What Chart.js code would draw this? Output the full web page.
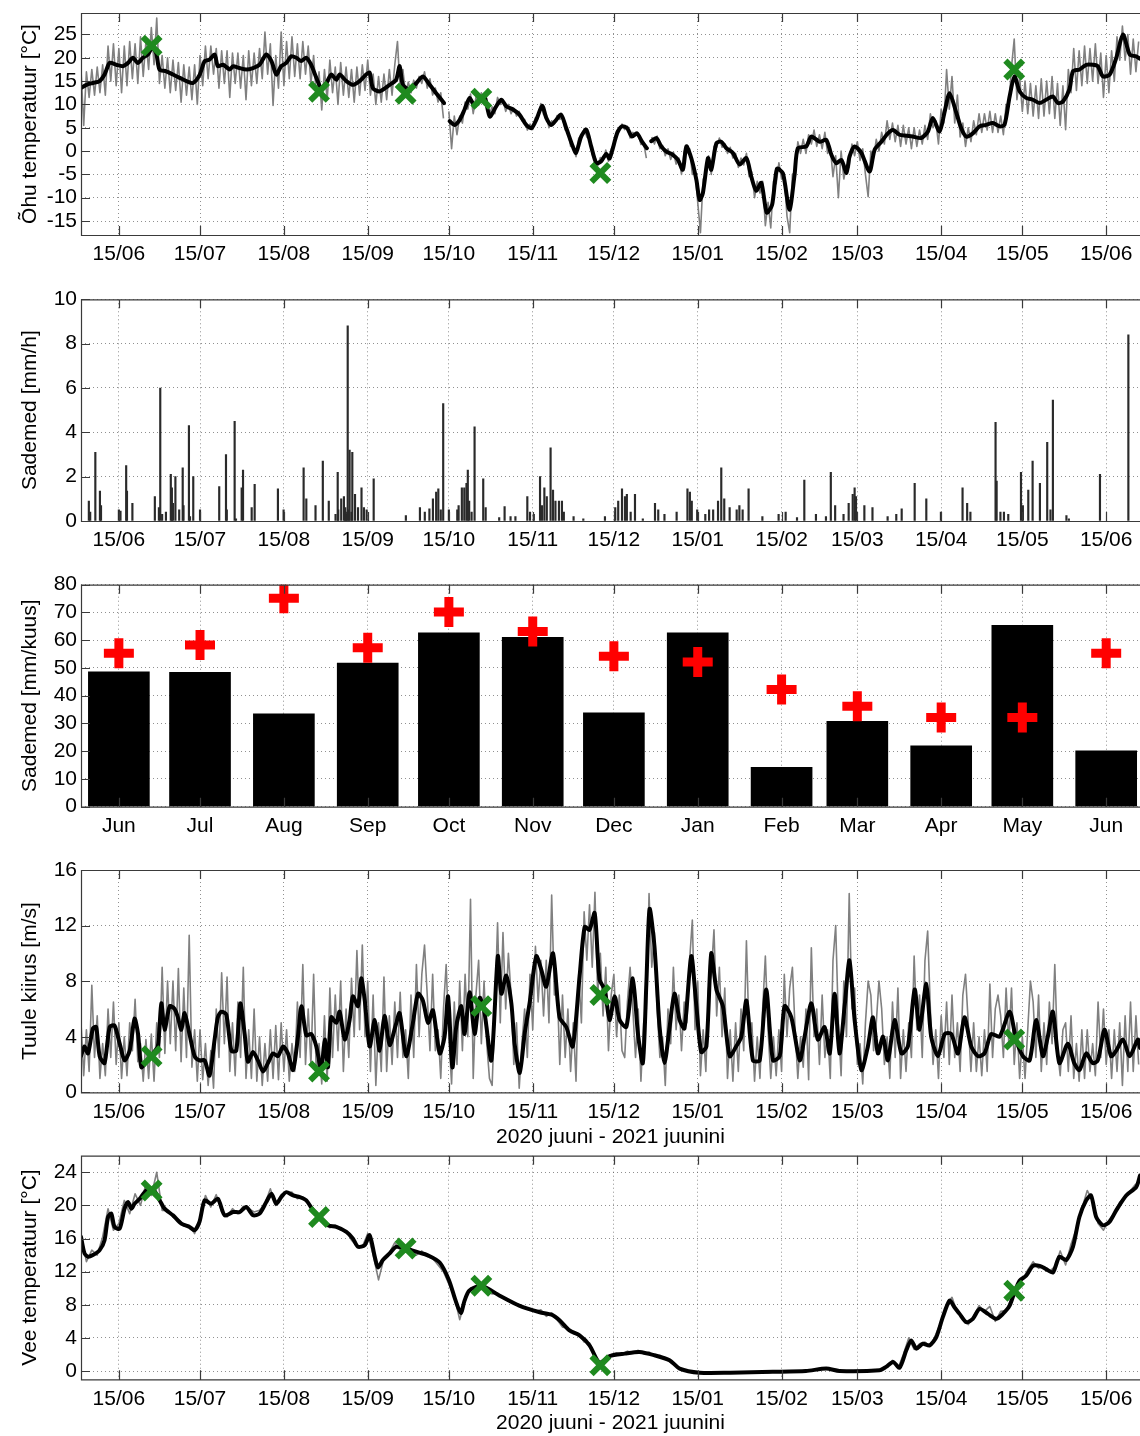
<!DOCTYPE html>
<html>
<head>
<meta charset="utf-8">
<script src="https://cdn.jsdelivr.net/npm/chart.js@4/dist/chart.umd.min.js"></script>
<style>
  html, body { margin: 0; padding: 0; background: #fff; }
  body { position: relative; width: 1140px; height: 1436px; overflow: hidden; }
  canvas { position: absolute; left: 0; }
</style>
</head>
<body>
<script>
// Time axis: days counted from 1 June 2020.
const X_MAX = 391.5;
const tickDays = [14, 44, 75, 106, 136, 167, 197, 228, 259, 287, 318, 348, 379];
const dateLabels = ['15/06','15/07','15/08','15/09','15/10','15/11','15/12','15/01','15/02','15/03','15/04','15/05','15/06'];
const monthLabels = ['Jun','Jul','Aug','Sep','Oct','Nov','Dec','Jan','Feb','Mar','Apr','May','Jun'];
const periodTitle = '2020 juuni - 2021 juunini';

// Sampling days (field visits), marked with green crosses
const sampleDays = [26.1, 88, 120, 148, 192, 345];
const windSampleDays = [26.1, 88, 148, 192, 345];

// ---- Air temperature [°C] ----
const airTicks = [-15, -10, -5, 0, 5, 10, 15, 20, 25];
// hourly extremes, one value per day (day index = array index)
const airRaw = [
17.5,5.5,17.0,11.5,17.5,12.0,18.0,12.5,18.5,12.0,
22.5,15.0,23.0,14.0,22.0,12.5,22.5,14.0,23.5,15.5,
23.0,14.5,24.5,16.0,23.5,17.5,26.5,18.5,28.5,14.5,
20.5,13.5,20.0,12.5,19.5,13.0,19.0,10.5,18.5,12.0,
18.0,11.0,18.5,10.0,20.5,14.0,22.5,15.5,22.5,16.5,
22.0,13.5,21.5,14.5,21.5,11.5,21.0,14.5,21.0,13.5,
20.5,11.0,21.5,14.0,21.0,14.5,22.0,15.5,25.5,16.5,
23.0,9.8,20.5,13.5,25.5,14.0,23.5,15.5,24.5,16.0,
23.0,15.5,23.5,16.5,22.5,14.5,20.5,11.5,17.0,8.8,
17.5,11.0,19.5,12.5,18.0,10.0,19.0,12.0,18.0,11.5,
17.5,10.5,18.0,12.0,18.5,13.0,19.5,12.0,16.5,10.0,
16.0,10.5,16.5,11.0,17.5,12.0,18.5,23.5,13.0,17.5,
12.0,14.8,12.5,15.2,13.5,16.0,14.5,17.0,13.5,15.5,
12.0,13.5,10.5,12.5,7.0,null,8.5,0.5,7.5,3.5,
7.5,6.0,10.5,9.0,12.2,8.0,11.5,9.8,12.5,10.0,
10.5,8.0,9.5,8.0,11.5,10.0,11.0,8.5,10.0,8.0,
9.2,7.5,8.5,6.5,6.8,4.5,5.8,4.6,7.2,7.0,
10.2,7.8,7.8,5.0,6.5,5.8,7.6,6.8,7.2,4.5,
4.2,1.0,1.2,-1.2,2.8,2.8,4.8,3.0,2.5,-0.8,
-1.2,-3.2,-1.4,-2.0,0.2,-2.2,0.4,1.5,4.3,4.2,
5.8,4.6,5.3,2.8,4.0,3.4,3.8,1.4,1.8,-1.5,
null,3.0,1.5,3.2,0.5,1.2,-1.0,0.5,-1.8,-0.2,
-2.8,-1.5,-5.0,0.0,-0.5,0.5,-5.0,-4.5,-11.0,-17.5,
-6.0,-5.0,-1.0,-5.0,1.0,0.8,2.8,0.8,1.6,-0.5,
0.8,-1.5,-0.5,-3.5,-1.5,-3.0,-0.5,-5.5,-4.5,-10.0,
-6.5,-9.0,-6.5,-16.0,-11.0,-16.5,-6.5,-7.0,-2.5,-6.0,
-5.5,-14.0,-17.5,-5.0,-4.5,2.0,-0.5,2.5,-0.5,3.5,
1.5,4.5,1.0,3.5,0.5,4.0,-0.5,1.0,-5.5,-1.0,
-10.0,0.0,-6.0,-3.0,-3.5,1.5,-1.0,2.0,-2.0,0.5,
-5.0,-9.8,0.0,-1.5,2.5,0.0,4.0,1.5,6.5,2.5,
6.0,2.0,5.5,1.0,5.5,1.5,5.0,0.5,5.0,1.0,
4.5,1.5,5.5,2.5,8.0,5.0,6.5,1.5,9.0,6.0,
17.5,9.0,16.0,6.0,12.0,3.0,6.0,1.0,5.0,2.0,
6.5,3.5,8.0,4.0,8.0,4.5,8.5,4.0,8.0,4.0,
7.5,3.5,10.0,9.5,18.0,24.0,11.0,16.0,8.5,15.0,
8.0,14.5,7.5,14.0,7.0,15.5,7.5,15.0,8.0,16.0,
7.0,14.5,5.5,14.0,4.6,17.5,12.5,22.0,13.0,21.5,
14.0,22.5,14.5,22.0,15.0,23.0,14.5,21.0,11.5,20.5,
12.5,21.5,15.0,24.5,19.5,26.8,19.5,25.0,16.5,24.0,
17.0,23.5
];
// daily running mean, [day, °C]
const airMean = [
[0,13.5],[2,14.2],[4.4,14.6],[6.9,15],[8.7,16.4],[10.6,18.9],[13,18.5],[15.5,18.2],[17.4,18.9],[19.2,20],
[21,18.9],[22.9,20],[24.7,20.7],[26.3,22.1],[27.8,21],[29,17.5],[31.5,17.1],[34,16.4],[36.5,15.7],[39,15],
[41.4,14.6],[43.9,16.4],[45.7,19.3],[47.5,19.6],[49.4,20.7],[50.6,18.2],[52.5,18.5],[55,17.5],[56.2,18.2],[58.6,17.8],
[61.1,17.5],[63.6,17.8],[66,18.5],[68.5,20.7],[70.4,19.3],[72.2,16.4],[74,18.2],[75.9,18.9],[77.7,20.3],[79.6,20],
[81.4,19.3],[83.3,20],[85.1,18.5],[87,15.7],[88.8,13.5],[90.7,14.6],[92.5,16.4],[94.4,15.3],[95.6,16.4],[98.1,15],
[100.5,14.2],[103,15],[105.4,16.4],[106.7,16.8],[107.9,13.5],[110.4,12.8],[114.1,14.2],[116.5,15.3],[117.8,18.2],[119,14.2],
[121.5,13.2],[124,14.6],[126.4,16],[128.9,14.2],[131.3,12.4],[134.2,10.3],[135.2,null],[136.3,6.4],[138.1,5.6],[140,6.7],
[141.8,8.9],[143.7,11.4],[145.5,9.6],[147.4,11],[149.2,11.7],[151.1,7.4],[153.5,9.6],[155.4,11],[157.2,9.6],[159.7,8.9],
[162.1,7.8],[164.6,5.6],[166.5,4.9],[168.3,6.7],[170.5,9.7],[172,7.1],[173.8,5.6],[175.7,6.7],[177.5,7.8],[179.4,4.9],
[181.8,1],[183,-0.4],[184.9,3.1],[186.8,4.6],[188.6,1],[190.5,-2.6],[192.3,-2.2],[194.2,-0.6],[195.4,-1.6],[198.2,3.8],
[200,5.3],[201.9,4.9],[203.7,3.1],[205.5,3.8],[207.4,2],[209.2,0.6],[210,null],[210.8,2.1],[212.7,2.8],[214.5,1],
[216.4,-0.1],[218.8,-0.8],[220.7,-1.9],[222.5,-4],[223.8,1],[225.6,-1.5],[227.5,-6.2],[228.7,-10.5],[229.9,-9],[231.8,-1.5],
[233,-4],[234.9,1.7],[236.7,2],[238.6,0.6],[241,-0.4],[243.5,-2.9],[246,-1.5],[247.8,-5.5],[249.6,-8.5],[251.5,-6.8],
[253.5,-13.2],[255.5,-11.5],[257.3,-3.8],[259.5,-4.8],[261.9,-12.6],[263.8,-5.1],[265,0.6],[268.1,1],[270,3.1],[273.1,2],
[275.5,2.4],[277.4,-0.8],[279.2,-2.6],[281.1,-1.9],[283,-4.7],[284.1,-1.2],[286,1],[288.5,-0.4],[291.5,-4.4],[293.4,0.3],
[295.9,2],[298.3,3.8],[300.2,4.5],[302.6,3.5],[305.1,3.3],[307.5,3.1],[310.6,2.8],[313.1,4.2],[314.9,7.1],[317.4,4.2],
[319.3,8.5],[321.1,12.4],[323.6,8.2],[325.4,4.9],[327.3,3.1],[329.7,3.8],[332.2,5.3],[334.6,5.6],[337.1,6],[339.6,5.3],
[341.4,5.6],[343.3,11.7],[345.1,16],[347,12.8],[349.4,11.4],[351.9,11],[354.4,10.3],[356.8,11],[359.3,11.7],[361.1,10.3],
[363,10.6],[365.4,13.2],[366.7,17.1],[369.2,17.5],[371.6,18.5],[374.1,18.5],[375.9,18.2],[377.8,16],[380.3,16.4],[382.7,19.9],
[385.2,25],[387.7,20.7],[390.1,20.3],[391.5,19.8]
];
const airSample = [22.6, 12.7, 12.3, 11.2, -4.7, 17.5];

// ---- Hourly precipitation [mm/h], [day, mm] ----
const rainTicks = [0, 2, 4, 6, 8, 10];
const rainHourly = [
[2.9,0.9],[3.4,0.4],[5.3,3.1],[7.0,1.35],[7.4,0.7],[14.0,0.5],[14.6,0.45],[16.7,2.5],[17.0,1.35],[19.0,0.8],
[27.3,1.1],[28.8,0.6],[29.3,6.0],[30.0,0.3],[31.4,0.4],[33.2,2.1],[33.6,1.5],[34.0,0.8],[34.9,2.0],[36.3,0.5],
[37.6,2.4],[37.9,0.7],[39.9,4.3],[40.3,0.2],[41.5,2.0],[44.0,0.5],[51.1,1.55],[53.6,3.0],[53.9,0.5],[56.8,4.5],
[57.3,0.1],[59.4,1.5],[59.9,2.3],[63.1,0.6],[64.2,1.65],[72.8,1.45],[74.9,0.5],[82.3,2.4],[83.3,1.0],[86.7,0.7],
[89.4,2.7],[91.6,0.9],[94.1,0.3],[94.9,2.2],[95.1,0.5],[96.2,1.0],[97.2,1.1],[97.7,0.6],[97.9,0.4],[98.2,0.3],
[98.6,8.8],[99.0,0.5],[99.3,3.2],[100.0,0.4],[100.3,3.1],[101.3,1.2],[102.4,0.6],[103.7,1.5],[104.6,0.6],[105.6,0.5],
[108.2,1.9],[120.1,0.25],[125.3,0.6],[127.1,0.4],[128.8,0.55],[130.1,1.0],[131.3,1.3],[132.1,1.45],[133.0,0.5],[133.9,5.3],
[136.0,0.5],[139.1,0.5],[139.6,0.7],[140.8,1.5],[141.7,1.5],[142.5,1.7],[143.0,2.3],[143.5,0.9],[144.4,0.4],[145.5,4.25],
[148.7,1.9],[149.6,0.6],[154.6,0.15],[156.6,0.65],[158.8,0.2],[160.6,0.2],[165.0,1.1],[166.0,0.4],[167.4,0.3],[169.7,2.0],
[170.4,0.7],[171.3,1.5],[172.2,1.1],[173.6,3.3],[174.5,1.4],[175.4,0.9],[176.7,0.9],[177.8,0.9],[178.5,0.4],[182.1,0.2],
[185.7,0.1],[193.7,0.2],[197.5,0.6],[198.6,0.9],[200.0,1.45],[201.1,1.1],[201.8,1.2],[203.2,0.4],[204.8,1.2],[207.7,0.1],
[212.2,0.8],[213.4,0.5],[215.7,0.3],[220.2,0.4],[224.2,1.45],[225.1,1.3],[225.8,0.9],[227.8,0.5],[230.8,0.3],[232.2,0.5],
[233.7,0.5],[235.5,0.9],[236.7,2.4],[237.8,1.0],[239.8,0.6],[242.4,0.5],[243.4,0.7],[244.6,0.5],[246.8,1.45],[251.9,0.2],
[257.9,0.3],[260.5,0.4],[264.7,0.15],[267.4,1.85],[271.7,0.3],[275.4,0.2],[277.2,2.2],[278.8,0.7],[281.9,0.3],[283.8,0.8],
[285.3,1.2],[286.0,1.5],[286.5,1.1],[289.6,0.7],[292.6,0.6],[298.2,0.2],[301.4,0.3],[303.4,0.55],[308.2,1.7],[312.5,1.0],
[317.9,0.4],[325.9,1.5],[327.6,0.8],[328.8,0.4],[338.1,4.45],[338.5,1.8],[339.9,0.4],[341.2,0.4],[342.8,0.3],[347.5,2.2],
[348.2,0.7],[350.2,1.4],[351.8,2.7],[354.5,1.7],[357.2,3.55],[358.4,0.5],[359.3,5.45],[364.3,0.25],[365.2,0.1],[376.7,2.1],
[387.2,8.4]
];

// ---- Monthly precipitation [mm/kuus] and long-term monthly norm ----
const monthTicks = [0, 10, 20, 30, 40, 50, 60, 70, 80];
const rainMonth = [48.6, 48.4, 33.5, 51.8, 62.7, 61.0, 33.8, 62.7, 14.2, 30.8, 21.9, 65.4, 20.1];
const rainNorm  = [55.3, 58.3, 75.1, 57.3, 70.2, 63.1, 54.2, 52.1, 42.2, 36.2, 32.1, 32.1, 55.3];

// ---- Wind speed [m/s] ----
const windTicks = [0, 4, 8, 12, 16];
const windRaw = [
5.0,1.2,4.5,1.5,7.7,2.5,5.5,1.0,3.5,1.2,
6.0,2.5,6.5,2.0,5.0,1.0,4.0,1.2,5.0,3.0,
6.7,2.2,3.5,0.8,3.8,1.0,4.2,0.8,5.0,2.5,
9.0,2.8,8.0,3.5,8.0,3.0,8.9,2.2,7.5,2.5,
11.3,1.8,4.5,0.8,4.5,0.9,3.5,0.5,3.0,0.3,
6.0,2.5,8.6,3.5,8.3,1.5,5.0,1.2,6.5,2.5,
9.0,1.0,4.5,1.0,6.0,0.8,4.0,0.5,3.5,0.8,
4.5,1.0,4.8,0.9,5.0,1.5,4.5,0.8,3.5,1.5,
6.5,2.5,9.2,2.0,6.0,2.0,8.5,1.2,3.5,0.6,
5.5,0.8,7.5,2.5,7.0,3.0,8.0,1.5,6.0,2.5,
8.2,4.0,10.2,4.5,10.6,4.0,8.0,1.5,7.0,0.5,
5.0,1.5,8.3,1.5,5.5,2.0,6.5,2.5,7.2,2.5,
4.5,1.0,7.0,2.5,9.2,4.0,8.5,10.6,7.0,3.0,
8.5,3.0,4.5,1.0,6.0,9.2,4.0,0.6,6.5,2.0,
8.0,3.0,8.5,4.0,13.9,1.0,7.0,9.5,3.5,8.0,
3.5,1.0,0.5,6.0,12.2,5.0,11.5,6.0,10.0,7.0,
2.0,5.0,0.3,3.5,6.0,2.5,8.5,4.5,10.5,6.5,
9.5,5.5,9.5,5.0,14.2,7.0,8.0,2.0,7.0,2.5,
6.0,1.5,5.0,0.8,8.5,5.0,13.0,9.5,13.5,9.0,
14.4,7.0,10.0,5.5,9.0,3.0,7.0,8.5,4.0,7.0,
3.0,2.5,6.5,9.0,6.0,2.5,6.0,0.8,5.0,6.0,
14.3,9.0,11.5,6.0,2.5,4.0,0.5,6.0,3.5,9.0,
4.5,7.0,3.0,6.5,5.0,9.5,12.4,4.5,8.0,1.2,
4.5,1.5,7.5,8.5,11.7,5.5,9.0,4.0,7.5,1.0,
4.5,0.8,5.0,1.5,6.0,3.0,10.9,4.0,5.0,0.8,
4.0,1.0,6.0,9.8,4.5,1.0,4.0,1.2,4.5,1.5,
8.5,4.0,7.5,9.0,4.5,1.0,4.0,1.8,6.0,0.9,
10.4,4.0,6.0,2.0,7.0,2.5,4.5,1.0,9.5,12.0,
5.0,1.2,8.0,4.0,14.3,6.0,7.5,2.0,3.5,0.6,
5.0,8.0,7.0,3.0,5.0,8.0,6.0,2.0,4.0,1.0,
6.5,2.5,7.5,1.0,4.5,1.5,5.0,2.5,9.8,4.5,
7.0,2.5,9.5,11.6,6.0,2.0,4.5,1.0,5.5,2.5,
6.5,2.0,7.0,2.5,5.0,1.5,7.0,8.5,5.0,1.5,
5.0,1.5,4.0,1.2,4.5,1.5,7.8,2.5,6.0,7.0,
5.5,2.5,7.5,3.5,7.5,2.0,5.0,1.0,4.0,1.0,
4.5,8.0,6.5,2.5,7.0,1.5,5.0,2.0,6.5,3.5,
9.2,3.0,1.2,4.5,5.0,1.5,5.5,1.0,3.5,0.8,
4.5,1.0,4.5,1.5,3.5,1.2,6.5,2.5,6.0,2.0,
4.5,1.0,4.5,1.5,5.0,0.5,5.5,1.5,6.5,1.5,
5.5,2.0
];
const windMean = [
[0,2.6],[1.3,3.3],[2.6,2.8],[4.4,4.6],[5.6,4.7],[6.9,2.6],[8.7,2.1],[10.6,4.7],[12.4,4.8],[14.3,3.5],
[16.1,2.3],[18,3.0],[19.8,5.3],[21.1,4.2],[22.3,1.8],[24.1,2.2],[26.6,2.8],[28.4,3.3],[29.7,6.4],[30.9,4.5],
[32.8,6.2],[34.6,6.0],[35.8,5.4],[37.1,4.5],[38.3,5.7],[40.1,4.2],[42,2.6],[43.8,2.3],[45.7,2.3],[47.5,1.2],
[49.4,3.8],[50.6,5.4],[51.9,5.8],[53.7,5.6],[55.6,3.0],[57.4,3.0],[58.9,6.4],[60.5,4.2],[61.7,2.2],[63.6,2.9],
[65.4,2.3],[67.3,1.5],[69.1,2.1],[71,2.8],[72.8,2.6],[74.7,3.3],[76.5,2.8],[78.4,1.6],[80.2,4.0],[81.5,6.2],
[83.3,4.1],[85.1,4.2],[87,3.3],[88.8,1.6],[90.1,3.8],[91.3,1.8],[92.5,5.4],[94.4,5.0],[95.6,5.8],[97.5,3.8],
[99.3,5.2],[100.5,6.9],[102.4,6.2],[103.6,8.2],[104.9,6.6],[106.7,3.3],[108.6,5.2],[110.4,3.0],[112.2,5.5],[114.1,3.4],
[116.3,4.8],[117.8,5.7],[120.2,2.6],[122.7,5.0],[124.6,7.1],[126.4,6.6],[128.3,5.0],[130.1,5.9],[132.6,2.8],[134.4,4.0],
[135.7,6.9],[137.3,1.8],[138.7,4.7],[140.6,6.2],[141.8,4.2],[143.7,7.2],[145.5,4.2],[147.4,6.8],[149.2,5.7],[151.7,2.3],
[154.1,9.8],[155.4,7.1],[157.2,8.4],[159.1,6.4],[160.3,3.5],[162.2,1.4],[164,4.2],[165.9,6.5],[168.3,9.8],[170.2,8.8],
[172,7.6],[174.5,10.0],[176.9,5.4],[179.4,4.7],[181.8,3.3],[184.3,8.3],[186.2,11.9],[188,11.7],[189.9,12.9],[191.7,8.1],
[193.6,7.4],[195.4,5.2],[197.3,6.9],[199.1,5.2],[201.6,4.7],[204,8.2],[205.9,4.2],[207.7,2.1],[209,7.8],[210.2,13.2],
[212,10.5],[213.9,4.7],[215.7,2.1],[217.6,4.7],[219.4,7.1],[221.3,5.2],[223.1,4.6],[225.6,9.8],[227.5,6.2],[229.3,2.9],
[231.2,3.3],[233,10.0],[234.9,7.4],[237.3,6.2],[239.8,2.6],[242.2,3.3],[244.1,4.0],[246,6.6],[248.4,2.3],[250.9,2.3],
[253.3,7.4],[255.8,2.3],[258.3,2.6],[260.1,6.2],[262.6,5.4],[265.7,2.3],[267.5,4.0],[270,6.4],[272.4,3.8],[274.9,4.7],
[276.8,2.8],[278.6,7.1],[280.4,2.8],[282.3,6.2],[284.1,9.5],[286,5.2],[288.5,1.6],[290.9,3.3],[292.8,5.4],[294.6,2.8],
[296.5,4.0],[298.3,2.3],[300.8,5.2],[303.3,2.8],[305.7,3.3],[308.2,7.4],[310,4.5],[312.5,7.8],[314.3,4.0],[316.8,2.6],
[319.3,4.2],[321.7,4.2],[324.2,2.8],[326.6,5.4],[329.1,3.3],[331.6,2.6],[334,2.8],[336.5,4.2],[339.6,4.0],[343.3,5.8],
[345.7,3.8],[348.2,2.6],[350.7,2.3],[353.1,5.2],[355.6,2.6],[357.4,4.0],[359.3,5.8],[361.7,2.1],[364.8,3.5],[367.2,2.1],
[369.1,1.6],[371.6,2.8],[374,2.1],[375.9,2.3],[378.4,4.5],[380.8,2.6],[382.7,3.0],[385.2,3.8],[387.7,2.6],[390.7,3.8],
[391.5,3.2]
];
const windSample = [2.6, 1.5, 6.2, 7.0, 3.8];

// ---- Water temperature [°C] ----
const waterTicks = [0, 4, 8, 12, 16, 20, 24];
// hourly readings, one value every second day
const waterRaw = [
16.5,13.2,14.6,14.0,16.2,19.6,17.0,17.8,20.6,19.0,
21.4,20.0,22.6,21.2,24.0,19.4,19.4,18.6,18.3,17.5,
17.6,16.6,18.4,21.2,19.8,21.3,19.2,18.6,19.6,19.0,
19.9,19.6,19.2,19.4,20.2,22.0,20.0,21.3,21.5,21.6,
20.8,21.0,20.2,19.6,18.4,18.2,17.3,17.6,17.0,16.9,
15.8,15.1,15.0,16.6,14.0,11.0,13.6,14.3,15.5,14.6,
15.0,14.8,14.0,14.5,13.8,13.6,12.8,12.0,10.5,9.0,
6.2,8.6,10.0,10.2,10.6,9.8,9.3,9.4,8.8,8.6,
8.2,8.0,7.7,7.5,7.2,7.4,6.6,7.0,6.2,5.3,
5.2,4.5,4.5,3.5,3.4,1.8,0.9,1.6,2.0,2.2,
2.0,2.4,2.2,2.5,2.1,2.3,1.8,1.9,1.5,1.0,
0.6,0.2,0.0,-0.1,-0.2,-0.2,-0.1,-0.2,-0.2,-0.1,
-0.2,-0.2,-0.1,-0.2,-0.2,-0.1,-0.1,-0.2,-0.1,-0.1,
-0.1,0.0,0.0,0.0,0.1,0.1,0.2,0.3,0.3,0.1,
0.0,0.0,0.0,0.0,0.0,0.0,0.1,0.1,0.2,0.6,
1.3,0.3,2.0,4.0,2.6,3.3,3.5,3.0,4.4,6.0,
8.0,8.9,7.0,6.5,5.6,6.6,7.9,7.2,7.8,6.0,
7.2,7.3,8.8,10.4,11.0,12.2,13.2,12.4,12.6,12.0,
12.6,14.5,12.8,15.3,17.2,19.6,21.8,20.5,17.8,17.0,
18.2,19.1,20.4,21.0,21.8,22.6
];
const waterMean = [
[0,16.2],[1.3,14.2],[2.6,13.8],[4.4,14.0],[6.9,14.6],[8.7,15.8],[10,18.6],[11.2,19.0],[12.4,17.4],[14.3,17.2],
[16.1,19.6],[17.4,20.4],[18.6,19.6],[19.8,20.2],[21.7,20.8],[24.1,21.8],[26.6,22.0],[29.1,20.6],[30.9,19.6],[34,18.8],
[37.1,17.8],[40.1,17.4],[42,17.0],[43.8,18.0],[45.7,20.6],[48.1,20.2],[50.6,20.8],[53.1,18.8],[56.2,19.2],[58.6,19.2],
[61.1,19.8],[63.6,18.8],[66,19.0],[68.5,20.4],[70.4,21.4],[72.2,20.2],[74,21.0],[75.9,21.6],[78.4,21.2],[80.9,21.0],
[83.3,20.6],[85.8,19.4],[88.3,18.6],[91.3,17.6],[94.4,17.4],[98.1,16.8],[100.5,16.0],[102.4,15.0],[104.9,15.2],[106.7,16.4],
[108.6,13.8],[109.8,12.5],[111.6,13.4],[114.1,14.2],[116.5,15.0],[120,14.8],[125,14.3],[128,14.0],[132.6,13.1],[136,11.0],
[138.5,8.5],[140.4,7.0],[141.8,8.5],[143.5,9.7],[148,10.3],[154.8,9.1],[162,7.9],[169.6,7.1],[174,6.8],[177,6.1],
[180.6,4.9],[184.3,4.3],[188,3.1],[191.7,1.0],[195.4,1.8],[201,2.1],[206.5,2.3],[212,1.9],[217.6,1.3],[221.3,0.3],
[228.7,-0.2],[240,-0.2],[255.8,-0.1],[268,0.0],[275.5,0.3],[280.4,0.0],[295.2,0.1],[297.6,0.5],[300.2,1.1],[302.6,0.4],
[305.1,2.5],[306.9,3.7],[308.8,2.7],[311.2,3.3],[313.7,3.1],[316.2,4.1],[318.6,6.5],[321.1,8.5],[322.9,7.7],[324.8,6.9],
[327.3,5.9],[329.7,6.3],[332.2,7.5],[335.3,6.9],[338.4,6.3],[340.8,6.9],[343.3,7.9],[345.1,9.5],[347,10.9],[349.4,11.5],
[351.9,12.7],[354.4,12.7],[356.8,12.3],[359.3,11.9],[361.7,13.8],[364.2,13.4],[366.7,15.0],[369.1,18.6],[371.6,20.6],[373.4,21.2],
[375.3,18.6],[377.8,17.6],[380.2,18.0],[382.7,19.4],[386.4,21.2],[390.1,22.2],[391.5,23.6]
];
const waterSample = [21.8, 18.6, 14.8, 10.3, 0.7, 9.7];

// ---------------------------------------------------------------
const FONT = { family: "'Liberation Sans', Arial, Helvetica, sans-serif", size: 21 };
const GRID = 'rgba(70,70,70,0.6)';
const GRAY = '#808080';
const GREEN = '#1f8a1f';

const byDay = (vals, step) => vals.map((v, i) => ({ x: i * (step || 1), y: v }));
const pairs = arr => arr.map(p => ({ x: p[0], y: p[1] }));
const zipXY = (xs, ys) => xs.map((x, i) => ({ x: x, y: ys[i] }));

// axis box with inward tick marks (left, top, bottom)
const frame = {
  id: 'frame',
  afterDatasetsDraw(chart) {
    const { ctx, chartArea: a, scales: { x, y } } = chart;
    ctx.save();
    ctx.strokeStyle = '#3a3a3a';
    ctx.lineWidth = 1.2;
    ctx.beginPath();
    ctx.moveTo(a.right + 2, a.top + 0.5);
    ctx.lineTo(a.left + 0.5, a.top + 0.5);
    ctx.lineTo(a.left + 0.5, a.bottom + 0.5);
    ctx.lineTo(a.right + 2, a.bottom + 0.5);
    x.ticks.forEach(t => {
      const px = Math.round(x.getPixelForValue(t.value)) + 0.5;
      ctx.moveTo(px, a.top); ctx.lineTo(px, a.top + 9);
      ctx.moveTo(px, a.bottom); ctx.lineTo(px, a.bottom - 9);
    });
    y.ticks.forEach(t => {
      const py = Math.round(y.getPixelForValue(t.value)) + 0.5;
      ctx.moveTo(a.left, py); ctx.lineTo(a.left + 9, py);
    });
    ctx.stroke();
    ctx.restore();
  }
};

function panel(p) {
  const c = document.createElement('canvas');
  c.width = 1140; c.height = p.height;
  c.style.top = p.top + 'px';
  document.body.appendChild(c);
  const axisH = p.height - (p.areaBottom - p.top);
  new Chart(c, {
    type: p.type,
    data: { datasets: p.datasets },
    plugins: [frame],
    options: {
      responsive: false, animation: false, devicePixelRatio: 1,
      events: [],
      layout: { autoPadding: false, padding: { top: p.areaTop - p.top, left: 0, right: 0, bottom: 0 } },
      plugins: { legend: { display: false }, tooltip: { enabled: false } },
      scales: {
        x: {
          type: 'linear', min: 0, max: X_MAX, offset: false,
          afterBuildTicks: s => { s.ticks = tickDays.map(v => ({ value: v })); },
          afterFit: s => { s.height = axisH; s.paddingLeft = 0; s.paddingRight = 0; },
          ticks: { autoSkip: false, maxRotation: 0, padding: 7, color: '#000', font: FONT,
                   callback: v => p.xLabels[tickDays.indexOf(v)] },
          grid: { drawTicks: false, color: GRID, lineWidth: 1, offset: false },
          border: { display: false, dash: [1, 3] },
          title: p.xTitle ? { display: true, text: p.xTitle, color: '#000', font: FONT,
                              padding: { top: 0, bottom: p.xTitlePad } } : { display: false }
        },
        y: {
          type: 'linear', min: p.yMin, max: p.yMax,
          afterBuildTicks: s => { s.ticks = p.yTicks.map(v => ({ value: v })); },
          afterFit: s => { s.width = 81; s.paddingTop = 0; s.paddingBottom = 0; },
          ticks: { autoSkip: false, padding: 4, color: '#000', font: FONT, callback: v => String(v) },
          grid: { drawTicks: false, color: GRID, lineWidth: 1 },
          border: { display: false, dash: [1, 3] },
          title: { display: true, text: p.yTitle, color: '#000', font: FONT, padding: { top: 18, bottom: 0 } }
        }
      }
    }
  });
}

const rawLine = (data) => ({ type: 'line', data, borderColor: GRAY, borderWidth: 1.6, pointRadius: 0,
  borderJoinStyle: 'round', spanGaps: false, order: 3 });
const meanLine = (data) => ({ type: 'line', data, borderColor: '#000', borderWidth: 4, pointRadius: 0,
  borderJoinStyle: 'round', borderCapStyle: 'round', tension: 0.25, spanGaps: false, order: 2 });
const sampleMarks = (data) => ({ type: 'line', data, showLine: false, pointStyle: 'crossRot', pointRadius: 12.5,
  pointBorderWidth: 6, pointBorderColor: GREEN, pointBackgroundColor: GREEN, order: 1 });

// 1: air temperature
panel({ top: 0, height: 280, areaTop: 13, areaBottom: 235, type: 'line',
  yMin: -18, yMax: 29.6, yTicks: airTicks, yTitle: 'Õhu temperatuur [°C]', xLabels: dateLabels,
  datasets: [ rawLine(byDay(airRaw)), meanLine(pairs(airMean)), sampleMarks(zipXY(sampleDays, airSample)) ] });

// 2: hourly precipitation
panel({ top: 282, height: 285, areaTop: 299.3, areaBottom: 521, type: 'bar',
  yMin: 0, yMax: 10, yTicks: rainTicks, yTitle: 'Sademed [mm/h]', xLabels: dateLabels,
  datasets: [ { type: 'bar', data: pairs(rainHourly), backgroundColor: '#2a2a2a', barThickness: 1.5 } ] });

// 3: monthly precipitation with norm
panel({ top: 567, height: 290, areaTop: 584.7, areaBottom: 806.7, type: 'bar',
  yMin: 0, yMax: 80, yTicks: monthTicks, yTitle: 'Sademed [mm/kuus]', xLabels: monthLabels,
  datasets: [
    { type: 'line', data: zipXY(tickDays, rainNorm), showLine: false, pointStyle: 'cross', pointRadius: 15,
      pointBorderWidth: 9, pointBorderColor: '#ff0000', pointBackgroundColor: '#ff0000', order: 1 },
    { type: 'bar', data: zipXY(tickDays, rainMonth), backgroundColor: '#000', barThickness: 61, order: 2 }
  ] });

// 4: wind speed
panel({ top: 855, height: 295, areaTop: 870, areaBottom: 1092.3, type: 'line',
  yMin: 0, yMax: 16, yTicks: windTicks, yTitle: 'Tuule kiirus [m/s]', xLabels: dateLabels,
  xTitle: periodTitle, xTitlePad: 0.5,
  datasets: [ rawLine(byDay(windRaw)), meanLine(pairs(windMean)), sampleMarks(zipXY(windSampleDays, windSample)) ] });

// 5: water temperature
panel({ top: 1143, height: 293, areaTop: 1155.7, areaBottom: 1379.3, type: 'line',
  yMin: -1, yMax: 26, yTicks: waterTicks, yTitle: 'Vee temperatuur [°C]', xLabels: dateLabels,
  xTitle: periodTitle, xTitlePad: 0,
  datasets: [ rawLine(byDay(waterRaw, 2)), meanLine(pairs(waterMean)), sampleMarks(zipXY(sampleDays, waterSample)) ] });
</script>
</body>
</html>
